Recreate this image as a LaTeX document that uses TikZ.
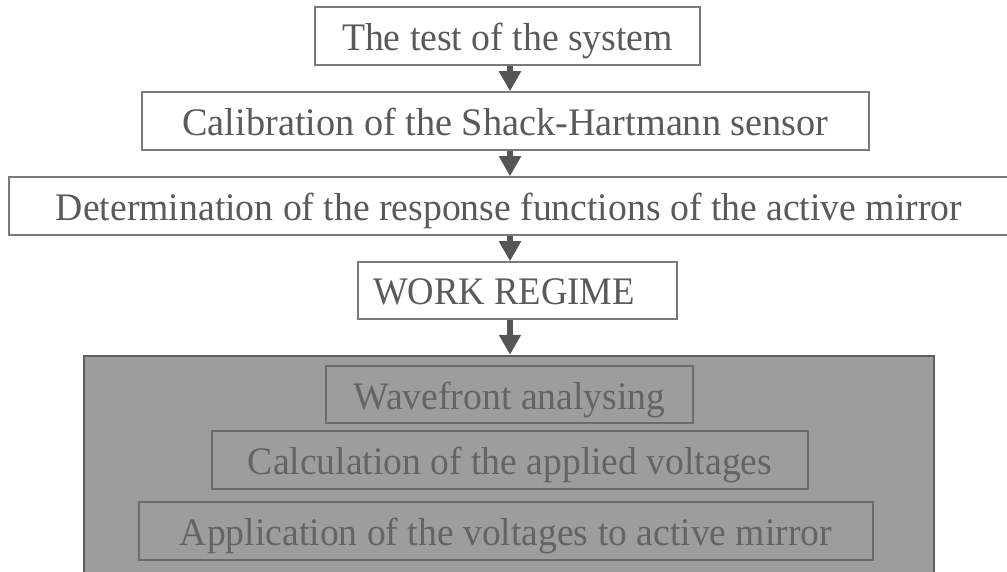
\documentclass[tikz,border=0pt]{standalone}
\usepackage{fontspec}
\setmainfont{Liberation Serif}
\usetikzlibrary{arrows.meta}
\definecolor{boxline}{HTML}{7A7A7A}
\definecolor{boxtext}{HTML}{5A5A5A}
\definecolor{arrowcol}{HTML}{555555}
\definecolor{areafill}{HTML}{9D9D9D}
\definecolor{arealine}{HTML}{5E5E5E}
\definecolor{innerline}{HTML}{6B6B6B}
\definecolor{innertext}{HTML}{646464}
\newcommand\fitw[2]{\resizebox{#1pt}{\height}{#2}}
\tikzset{
  stage/.style={draw=boxline, line width=1.5pt, fill=white, text=boxtext, inner sep=0pt,
    font=\fontsize{39}{40}\selectfont, text height=29pt, text depth=0pt},
  inner/.style={draw=innerline, line width=1.5pt, text=innertext, inner sep=0pt,
    font=\fontsize{39}{40}\selectfont, text height=29pt, text depth=0pt},
  area/.style={draw=arealine, line width=2.5pt, fill=areafill, inner sep=0pt},
  flow/.style={draw=arrowcol, line width=6pt, -{Triangle[length=20pt,width=21pt]}}
}
\begin{document}
\begin{tikzpicture}[x=1pt,y=-1pt]
\useasboundingbox (0,0) rectangle (1007,572);
\node[stage, minimum width=385pt, minimum height=58pt] (b1) at (507.5,36) {\fitw{331}{The test of the system}};
\node[stage, minimum width=727pt, minimum height=58pt] (b2) at (505.5,121) {\fitw{646}{Calibration of the Shack-Hartmann sensor}};
\node[stage, minimum width=1000pt, minimum height=58pt] (b3) at (509,206) {\fitw{906}{Determination of the response functions of the active mirror}};
\node[stage, minimum width=319pt, minimum height=57pt] (wr) at (517.5,290.5) {\fitw{262}{WORK REGIME}\hspace*{27pt}};
\node[area, minimum width=850pt, minimum height=244pt] (work) at (509,478) {};
\node[inner, minimum width=367pt, minimum height=57pt] (wf) at (509.5,394.5) {\fitw{312}{Wavefront analysing}};
\node[inner, minimum width=596pt, minimum height=58pt] (calc) at (510,460) {\fitw{524}{Calculation of the applied voltages}};
\node[inner, minimum width=734pt, minimum height=58pt] (app) at (506,531) {\fitw{652}{Application of the voltages to active mirror}};
\coordinate (ax) at (510,0);
\draw[flow] (b1.south -| ax) -- (b2.north -| ax);
\draw[flow] (b2.south -| ax) -- (b3.north -| ax);
\draw[flow] (b3.south -| ax) -- (wr.north -| ax);
\draw[flow] (wr.south -| ax) -- (work.north -| ax);
\end{tikzpicture}
\end{document}
